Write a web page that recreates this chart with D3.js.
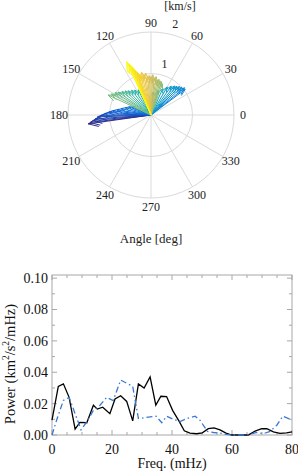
<!DOCTYPE html>
<html>
<head>
<meta charset="utf-8">
<script src="https://cdn.jsdelivr.net/npm/d3@7/dist/d3.min.js"></script>
<style>
  html, body { margin: 0; padding: 0; background: #fff; }
  svg { display: block; font-family: "Liberation Serif", "Times New Roman", serif; }
</style>
</head>
<body>
<div id="chart"></div>
<script>
// velocity vectors (hodogram), in time order
var vecAngle = [188, 187, 185.5, 184, 182, 180.5, 178.5, 176.5, 174, 171.5, 168, 164, 160, 157,
                37, 39, 42, 45, 48, 51, 55, 60, 66, 74, 84,
                111, 117, 123, 128, 133, 137, 141, 145, 148, 152, 155,
                70, 72.5, 75, 77.5, 80, 82.5, 85, 87.5, 90, 92.5, 95, 97.5, 100, 102.5, 105, 107,
                108, 109, 110, 111, 112, 113, 114, 114.5];
var vecSpeed = [1.53, 1.48, 1.41, 1.35, 1.29, 1.20, 1.12, 1.03, 0.93, 0.83, 0.74, 0.65, 0.57, 0.50,
                1.03, 1.04, 1.00, 0.97, 0.93, 0.90, 0.85, 0.78, 0.70, 0.62, 0.56,
                0.63, 0.68, 0.72, 0.76, 0.80, 0.85, 0.90, 0.96, 1.02, 1.08, 1.14,
                0.80, 0.84, 0.85, 0.88, 0.86, 0.93, 0.90, 0.97, 0.92, 0.95, 0.93, 1.02, 0.98, 1.06, 1.00, 1.05,
                1.06, 1.12, 1.17, 1.22, 1.27, 1.32, 1.37, 1.41];
var angleTicks = [0, 30, 60, 90, 120, 150, 180, 210, 240, 270, 300, 330];
var speedTicks = [1, 2];

// power spectra
var freqA = [0, 2.1, 3.8, 5.7, 7.7, 9.3, 11.6, 13.8, 15.1, 16.9, 19.3, 21, 22.9, 24.9, 26.9, 28.8, 30.7,
             32.7, 34.6, 36.3, 38.2, 40.2, 42.3, 44.1, 46, 48.2, 50.1, 52.1, 54, 56, 58, 59.9, 62.1,
             65.4, 67.7, 69.9, 71.6, 73.8, 76, 78.2, 80];
var powerA = [0.0095, 0.031, 0.0326, 0.024, 0.0037, 0.008, 0.0078, 0.019, 0.0165, 0.0177, 0.0136, 0.023,
              0.025, 0.0214, 0.009, 0.0326, 0.030, 0.037, 0.019, 0.0247, 0.0245, 0.0157, 0.009, 0.0027,
              0.0012, 0.0008, 0.0014, 0.004, 0.0045, 0.0033, 0.0012, 0, 0, 0, 0.0025, 0.004, 0.004,
              0.002, 0.001, 0.0014, 0.002];
var freqB = [0, 1.8, 3.8, 5.7, 7.7, 9.7, 11.8, 13.8, 16, 18.2, 20.4, 22.9, 24.9, 26.9, 28.8, 30.7, 32.7,
             34.7, 36.6, 38.2, 40.4, 42.7, 44.9, 47.7, 49.3, 51.8, 53.8, 56, 58.2, 60.4, 63.8, 66, 68.2,
             70.4, 72.7, 75, 76.9, 78.9, 80];
var powerB = [0, 0.011, 0.022, 0.024, 0.0136, 0.0033, 0.009, 0.0157, 0.019, 0.024, 0.022, 0.035, 0.033,
              0.031, 0.0105, 0.011, 0.0115, 0.012, 0.0078, 0.012, 0.010, 0.0085, 0.0105, 0.012, 0.0095,
              0.0023, 0.0016, 0.0012, 0.0004, 0, 0, 0.0004, 0.0016, 0.0008, 0.0023, 0.0064, 0.012,
              0.0105, 0.0099];
var xTicks = [0, 20, 40, 60, 80];
var yTicks = [0, 0.02, 0.04, 0.06, 0.08, 0.10];

var W = 298, H = 472;
var svg = d3.select('#chart').append('svg').attr('width', W).attr('height', H);

var parula = d3.interpolateRgbBasis(['#352a87', '#0363e1', '#1485d4', '#06a7c6', '#38b99e',
                                     '#92bf73', '#d9ba56', '#fcce2e', '#f9fb0e']);

// ---------- polar plot ----------
var cx = 151, cy = 115;
var r = d3.scaleLinear().domain([0, 2]).range([0, 83]);
var rad = function (deg) { return deg * Math.PI / 180; };
var px = function (deg, rr) { return cx + rr * Math.cos(rad(deg)); };
var py = function (deg, rr) { return cy - rr * Math.sin(rad(deg)); };

var polar = svg.append('g');
polar.selectAll('.ring').data(speedTicks).enter().append('circle')
    .attr('cx', cx).attr('cy', cy)
    .attr('r', function (d) { return r(d); })
    .attr('fill', 'none').attr('stroke', '#dadada').attr('stroke-width', 1);
polar.selectAll('.spoke').data(angleTicks).enter().append('line')
    .attr('x1', cx).attr('y1', cy)
    .attr('x2', function (d) { return px(d, r(2)); })
    .attr('y2', function (d) { return py(d, r(2)); })
    .attr('stroke', '#dadada').attr('stroke-width', 1);

polar.selectAll('.alab').data(angleTicks).enter().append('text')
    .attr('x', function (d) { return px(d, 92); })
    .attr('y', function (d) { return py(d, 92); })
    .attr('dy', '0.35em').attr('text-anchor', 'middle')
    .attr('font-size', '12px').attr('fill', '#222')
    .text(function (d) { return d; });
polar.selectAll('.rlab').data(speedTicks).enter().append('text')
    .attr('x', function (d) { return px(75, r(d) + 11); })
    .attr('y', function (d) { return py(75, r(d) + 11); })
    .attr('dy', '0.35em').attr('text-anchor', 'middle')
    .attr('font-size', '12px').attr('fill', '#222')
    .text(function (d) { return d; });
polar.append('text').attr('x', 180).attr('y', 10).attr('text-anchor', 'middle')
    .attr('font-size', '12px').attr('fill', '#222').text('[km/s]');

// arrows
var n = vecAngle.length;
var arrows = polar.selectAll('.vec').data(d3.range(n)).enter().append('g')
    .attr('stroke', function (i) { return parula(i / (n - 1)); })
    .attr('stroke-width', 1).attr('fill', 'none');
arrows.append('line')
    .attr('x1', cx).attr('y1', cy)
    .attr('x2', function (i) { return px(vecAngle[i], r(vecSpeed[i])); })
    .attr('y2', function (i) { return py(vecAngle[i], r(vecSpeed[i])); });
arrows.append('path').attr('d', function (i) {
    var a = rad(vecAngle[i]), L = r(vecSpeed[i]);
    var tx = cx + L * Math.cos(a), ty = cy - L * Math.sin(a);
    var back = 0.16 * L, side = 0.4 * back;
    var ux = Math.cos(a), uy = -Math.sin(a);
    var bx = tx - back * ux, by = ty - back * uy;
    return 'M' + (bx - side * uy) + ',' + (by + side * ux) +
        'L' + tx + ',' + ty +
        'L' + (bx + side * uy) + ',' + (by - side * ux);
});

svg.append('text').attr('x', 151).attr('y', 243).attr('text-anchor', 'middle')
    .attr('font-size', '13px').attr('fill', '#222').text('Angle [deg]');

// ---------- spectrum ----------
var x = d3.scaleLinear().domain([0, 80]).range([52, 292]);
var y = d3.scaleLinear().domain([0, 0.102]).range([435, 275]);
var spec = svg.append('g');
var gray = '#a8a8a8';

spec.append('rect').attr('x', x(0)).attr('y', y(0.102))
    .attr('width', x(80) - x(0)).attr('height', y(0) - y(0.102))
    .attr('fill', 'none').attr('stroke', gray).attr('stroke-width', 1);

var xMinor = d3.range(0, 81, 5), yMinor = d3.range(0, 0.1001, 0.01);
spec.selectAll('.xt').data(xMinor).enter().append('path')
    .attr('d', function (d) {
        var len = d % 20 === 0 ? 5 : 3;
        return 'M' + x(d) + ',' + y(0) + 'v' + (-len) + 'M' + x(d) + ',' + y(0.102) + 'v' + len;
    })
    .attr('stroke', gray).attr('stroke-width', 1);
spec.selectAll('.yt').data(yMinor).enter().append('path')
    .attr('d', function (d, i) {
        var len = i % 2 === 0 ? 5 : 3;
        return 'M' + x(0) + ',' + y(d) + 'h' + len + 'M' + x(80) + ',' + y(d) + 'h' + (-len);
    })
    .attr('stroke', gray).attr('stroke-width', 1);

spec.selectAll('.xl').data(xTicks).enter().append('text')
    .attr('x', function (d) { return x(d); }).attr('y', 454)
    .attr('text-anchor', 'middle').attr('font-size', '14px').attr('fill', '#111')
    .text(function (d) { return d; });
spec.selectAll('.yl').data(yTicks).enter().append('text')
    .attr('x', 48).attr('y', function (d) { return y(d); })
    .attr('dy', '0.35em').attr('text-anchor', 'end').attr('font-size', '14px').attr('fill', '#111')
    .text(function (d) { return d.toFixed(2); });

spec.append('text').attr('x', 172).attr('y', 468).attr('text-anchor', 'middle')
    .attr('font-size', '14px').attr('fill', '#111').text('Freq. (mHz)');

var yl = spec.append('text').attr('transform', 'translate(15,364) rotate(-90)')
    .attr('text-anchor', 'middle').attr('font-size', '14.5px').attr('fill', '#111');
yl.append('tspan').text('Power (km');
yl.append('tspan').attr('font-size', '9.5px').attr('dy', -6).text('2');
yl.append('tspan').attr('dy', 6).text('/s');
yl.append('tspan').attr('font-size', '9.5px').attr('dy', -6).text('2');
yl.append('tspan').attr('dy', 6).text('/mHz)');

var line = d3.line();
spec.append('path')
    .attr('d', line(freqA.map(function (f, i) { return [x(f), y(powerA[i])]; })))
    .attr('fill', 'none').attr('stroke', '#000').attr('stroke-width', 1.3);
spec.append('path')
    .attr('d', line(freqB.map(function (f, i) { return [x(f), y(powerB[i])]; })))
    .attr('fill', 'none').attr('stroke', '#3b78d4').attr('stroke-width', 1.3)
    .attr('stroke-dasharray', '6,3,1.5,3');
</script>
</body>
</html>
